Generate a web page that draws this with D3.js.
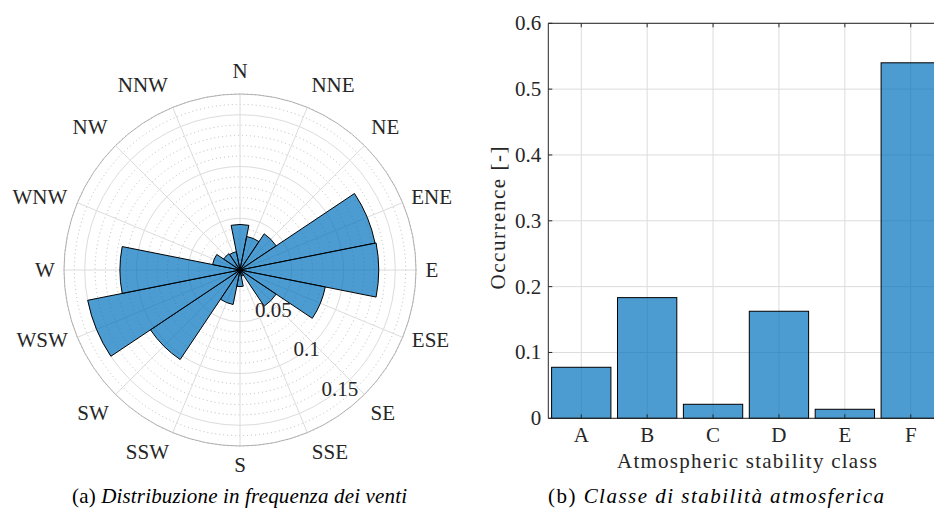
<!DOCTYPE html>
<html>
<head>
<meta charset="utf-8">
<script src="https://cdn.jsdelivr.net/npm/d3@7"></script>
<style>
  html, body { margin: 0; padding: 0; background: #fff; }
  svg { display: block; font-family: "Liberation Serif", "Times New Roman", serif; }
</style>
</head>
<body>
<svg id="fig" width="934" height="511"></svg>
<script>
// Wind rose: relative frequency per direction sector (16 sectors, clockwise from N)
const directions = ["N","NNE","NE","ENE","E","ESE","SE","SSE","S","SSW","SW","WSW","W","WNW","NW","NNW"];
const windFreq   = [0.044, 0.033, 0.042, 0.133, 0.134, 0.084, 0.042, 0.006, 0.016, 0.034, 0.104, 0.150, 0.116, 0.027, 0.019, 0.018];
const radialTicks = [0.05, 0.1, 0.15];
const radialTickLabels = ["0.05", "0.1", "0.15"];

// Atmospheric stability class occurrence
const stabilityClasses = ["A","B","C","D","E","F"];
const occurrence = [0.0775, 0.1833, 0.0213, 0.1626, 0.0137, 0.540];
const yTicks = [0, 0.1, 0.2, 0.3, 0.4, 0.5, 0.6];
const yTickLabels = ["0", "0.1", "0.2", "0.3", "0.4", "0.5", "0.6"];

const svg = d3.select("#fig");
const textColor = "#262626";
const faceColor = "#0072bd";
const faceAlpha = 0.7;
const gridColor = "#dcdcdc";
const fs = 21;

// ---------------- Polar wind rose ----------------
const cx = 240, cy = 270, R = 176, rLim = 0.17;
const rScale = d3.scaleLinear().domain([0, rLim]).range([0, R]);
const sector = 2 * Math.PI / directions.length;
const rose = svg.append("g").attr("transform", `translate(${cx},${cy})`);

// minor (dotted) circles every 0.01
const minor = d3.range(0.01, rLim + 1e-9, 0.01).filter(v => !radialTicks.some(t => Math.abs(t - v) < 1e-9));
rose.selectAll("circle.minor").data(minor).join("circle")
  .attr("r", d => rScale(d)).attr("fill", "none")
  .attr("stroke", "#b4b4b4").attr("stroke-width", 0.9).attr("stroke-dasharray", "1,3");

// major circles
rose.selectAll("circle.major").data(radialTicks).join("circle")
  .attr("r", d => rScale(d)).attr("fill", "none")
  .attr("stroke", gridColor).attr("stroke-width", 1);

// spokes
rose.selectAll("line.spoke").data(directions).join("line")
  .attr("x1", 0).attr("y1", 0)
  .attr("x2", (d, i) => R * Math.sin(i * sector))
  .attr("y2", (d, i) => -R * Math.cos(i * sector))
  .attr("stroke", gridColor).attr("stroke-width", 1);

// outer boundary
rose.append("circle").attr("r", R).attr("fill", "none")
  .attr("stroke", "#a8a8a8").attr("stroke-width", 0.9);

// sectors
const arc = d3.arc()
  .innerRadius(0)
  .outerRadius(d => rScale(d.v))
  .startAngle(d => d.i * sector - sector / 2)
  .endAngle(d => d.i * sector + sector / 2);
rose.selectAll("path.bar").data(windFreq.map((v, i) => ({ v, i }))).join("path")
  .attr("d", arc)
  .attr("fill", faceColor).attr("fill-opacity", faceAlpha)
  .attr("stroke", "#000").attr("stroke-width", 1).attr("stroke-linejoin", "miter");

// radial tick labels along bearing 140 deg
const labAng = 140 * Math.PI / 180;
rose.selectAll("text.rtick").data(radialTicks).join("text")
  .attr("x", d => rScale(d) * Math.sin(labAng))
  .attr("y", d => -rScale(d) * Math.cos(labAng) + 7)
  .attr("text-anchor", "middle")
  .attr("font-size", fs).attr("fill", textColor)
  .text((d, i) => radialTickLabels[i]);

// direction labels: centre of each label as (radius px, bearing deg) outside the rim
const dirLabelLayout = [
  [199, 0], [207, 26.7], [204, 45.4], [205, 69.2], [192, 90], [203, 110.2], [202, 135], [203, 153.7],
  [195, 180], [204, 207], [205, 225.8], [210, 250.5], [195, 270], [213, 290], [207, 313.6], [209, 332.3]
];
rose.selectAll("text.dir").data(directions).join("text")
  .attr("font-size", fs).attr("fill", textColor)
  .attr("text-anchor", "middle")
  .attr("x", (d, i) => dirLabelLayout[i][0] * Math.sin(dirLabelLayout[i][1] * Math.PI / 180))
  .attr("y", (d, i) => -dirLabelLayout[i][0] * Math.cos(dirLabelLayout[i][1] * Math.PI / 180) + 7)
  .text(d => d);

// ---------------- Bar chart ----------------
const x0 = 548.3, xStep = 65.9;
const xScale = d3.scaleLinear().domain([0.5, 6.5]).range([x0, x0 + 6 * xStep]);
const yScale = d3.scaleLinear().domain([0, 0.6]).range([418.3, 23.3]);
const bars = svg.append("g");

// grid
bars.selectAll("line.vg").data(stabilityClasses).join("line")
  .attr("x1", (d, i) => xScale(i + 1)).attr("x2", (d, i) => xScale(i + 1))
  .attr("y1", yScale(0)).attr("y2", yScale(0.6))
  .attr("stroke", gridColor).attr("stroke-width", 1);
bars.selectAll("line.hg").data(yTicks).join("line")
  .attr("x1", xScale(0.5)).attr("x2", xScale(6.5))
  .attr("y1", d => yScale(d)).attr("y2", d => yScale(d))
  .attr("stroke", gridColor).attr("stroke-width", 1);

// bars (width 0.9 of a category)
bars.selectAll("rect.bar").data(occurrence).join("rect")
  .attr("x", (d, i) => xScale(i + 1 - 0.45))
  .attr("width", xScale(1.45) - xScale(0.55))
  .attr("y", d => yScale(d))
  .attr("height", d => yScale(0) - yScale(d))
  .attr("fill", faceColor).attr("fill-opacity", faceAlpha)
  .attr("stroke", "#000").attr("stroke-width", 1);

// axes box
const axisG = bars.append("g").attr("stroke", textColor).attr("stroke-width", 1);
axisG.append("line").attr("x1", xScale(0.5)).attr("x2", xScale(0.5)).attr("y1", yScale(0)).attr("y2", yScale(0.6));
axisG.append("line").attr("x1", xScale(0.5)).attr("x2", xScale(6.5)).attr("y1", yScale(0)).attr("y2", yScale(0));
axisG.append("line").attr("x1", xScale(0.5)).attr("x2", xScale(6.5)).attr("y1", yScale(0.6)).attr("y2", yScale(0.6));
// inward ticks
stabilityClasses.forEach((c, i) => {
  axisG.append("line").attr("x1", xScale(i + 1)).attr("x2", xScale(i + 1)).attr("y1", yScale(0)).attr("y2", yScale(0) - 4);
  axisG.append("line").attr("x1", xScale(i + 1)).attr("x2", xScale(i + 1)).attr("y1", yScale(0.6)).attr("y2", yScale(0.6) + 4);
});
yTicks.forEach(t => {
  axisG.append("line").attr("x1", xScale(0.5)).attr("x2", xScale(0.5) + 4).attr("y1", yScale(t)).attr("y2", yScale(t));
});

// tick labels
bars.selectAll("text.xt").data(stabilityClasses).join("text")
  .attr("x", (d, i) => xScale(i + 1)).attr("y", 442)
  .attr("text-anchor", "middle").attr("font-size", fs).attr("fill", textColor)
  .text(d => d);
bars.selectAll("text.yt").data(yTicks).join("text")
  .attr("x", xScale(0.5) - 7).attr("y", d => yScale(d) + 7)
  .attr("text-anchor", "end").attr("font-size", fs).attr("fill", textColor)
  .text((d, i) => yTickLabels[i]);

// axis titles
bars.append("text").attr("x", 747).attr("y", 468)
  .attr("text-anchor", "middle").attr("font-size", fs).attr("fill", textColor)
  .attr("textLength", 260).attr("lengthAdjust", "spacing")
  .text("Atmospheric stability class");
bars.append("text").attr("transform", "translate(505,218) rotate(-90)")
  .attr("text-anchor", "middle").attr("font-size", fs).attr("fill", textColor)
  .attr("textLength", 143).attr("lengthAdjust", "spacing")
  .text("Occurrence [-]");

// ---------------- Sub-captions ----------------
function caption(xc, width, tag, body) {
  const t = svg.append("text").attr("x", xc).attr("y", 503)
    .attr("text-anchor", "middle").attr("font-size", fs).attr("fill", "#000")
    .attr("textLength", width).attr("lengthAdjust", "spacing");
  t.append("tspan").text(tag + " ");
  t.append("tspan").attr("font-style", "italic").text(body);
}
caption(239.5, 335, "(a)", "Distribuzione in frequenza dei venti");
caption(716, 336, "(b)", "Classe di stabilità atmosferica");
</script>
</body>
</html>
